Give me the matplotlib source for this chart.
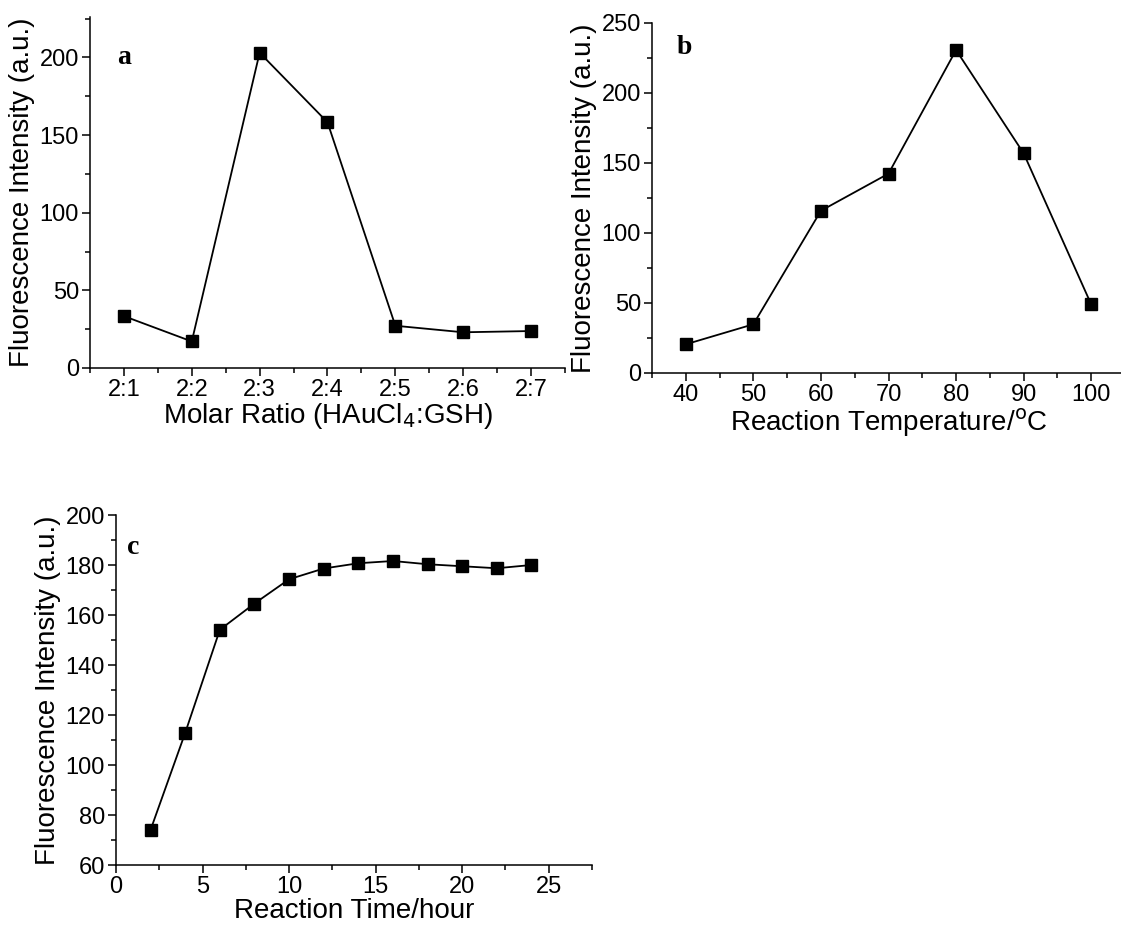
import matplotlib.pyplot as plt
from matplotlib.ticker import MultipleLocator

plt.rcParams['font.family'] = ['Liberation Sans', 'DejaVu Sans']

# panel a: molar ratio
ratio_labels = ['2:1', '2:2', '2:3', '2:4', '2:5', '2:6', '2:7']
ratio_pos = [1, 2, 3, 4, 5, 6, 7]
ratio_int = [33.4, 17.1, 203, 158.2, 27.2, 23, 23.8]

# panel b: reaction temperature
temp = [40, 50, 60, 70, 80, 90, 100]
temp_int = [20.5, 34.8, 115.9, 142.4, 230.7, 156.9, 49]

# panel c: reaction time
hours = [2, 4, 6, 8, 10, 12, 14, 16, 18, 20, 22, 24]
time_int = [74.1, 112.9, 154.1, 164.6, 174.3, 178.6, 180.7, 181.6, 180.3, 179.5, 178.7, 180]

W, H = 1121, 927
fig = plt.figure(figsize=(W / 100, H / 100), dpi=100)


def make_ax(left, top, right, bottom):
    return fig.add_axes([left / W, 1 - bottom / H, (right - left) / W, (bottom - top) / H])


def style(ax):
    for s in ('top', 'right'):
        ax.spines[s].set_visible(False)
    for s in ('left', 'bottom'):
        ax.spines[s].set_linewidth(1.1)
    ax.tick_params(which='major', direction='out', length=6, width=1.1, labelsize=17, pad=2)
    ax.tick_params(which='minor', direction='out', length=3.5, width=1.1)


def draw(ax, x, y):
    ax.plot(x, y, color='black', lw=1.3, marker='s', ms=8, mfc='black', mec='black', clip_on=False)


def letter(x, y, s):
    fig.text(x / W, 1 - y / H, s, fontsize=20, fontweight='bold', family='Liberation Serif',
             ha='center', va='center')


lab_kw = dict(fontsize=20)

# a
ax = make_ax(90, 17, 565, 368)
draw(ax, ratio_pos, ratio_int)
ax.set_xlim(0.5, 7.5)
ax.set_ylim(0, 226)
ax.set_xticks(ratio_pos)
ax.set_xticklabels(ratio_labels)
ax.xaxis.set_minor_locator(MultipleLocator(1, offset=0.5))
ax.yaxis.set_major_locator(MultipleLocator(50))
ax.yaxis.set_minor_locator(MultipleLocator(25))
style(ax)
ax.set_xlabel('Molar Ratio (HAuCl$_4$:GSH)', labelpad=0, **lab_kw)
ax.set_ylabel('Fluorescence Intensity (a.u.)', labelpad=3, **lab_kw)
letter(124, 58, 'a')

# b
ax = make_ax(652, 23, 1125, 373)
draw(ax, temp, temp_int)
ax.set_xlim(35, 105)
ax.set_ylim(0, 250)
ax.xaxis.set_major_locator(MultipleLocator(10))
ax.xaxis.set_minor_locator(MultipleLocator(5))
ax.yaxis.set_major_locator(MultipleLocator(50))
ax.yaxis.set_minor_locator(MultipleLocator(25))
style(ax)
ax.set_xlabel('Reaction Temperature/$^{\\mathrm{o}}$C', labelpad=0, **lab_kw)
ax.set_ylabel('Fluorescence Intensity (a.u.)', labelpad=3, **lab_kw)
letter(684, 48, 'b')

# c
ax = make_ax(116, 515, 592, 865)
draw(ax, hours, time_int)
ax.set_xlim(0, 27.5)
ax.set_ylim(60, 200)
ax.xaxis.set_major_locator(MultipleLocator(5))
ax.xaxis.set_minor_locator(MultipleLocator(2.5))
ax.yaxis.set_major_locator(MultipleLocator(20))
ax.yaxis.set_minor_locator(MultipleLocator(10))
style(ax)
ax.set_xlabel('Reaction Time/hour', labelpad=0, **lab_kw)
ax.set_ylabel('Fluorescence Intensity (a.u.)', labelpad=3, **lab_kw)
letter(133, 548, 'c')

fig.savefig('out.png', dpi=100)
